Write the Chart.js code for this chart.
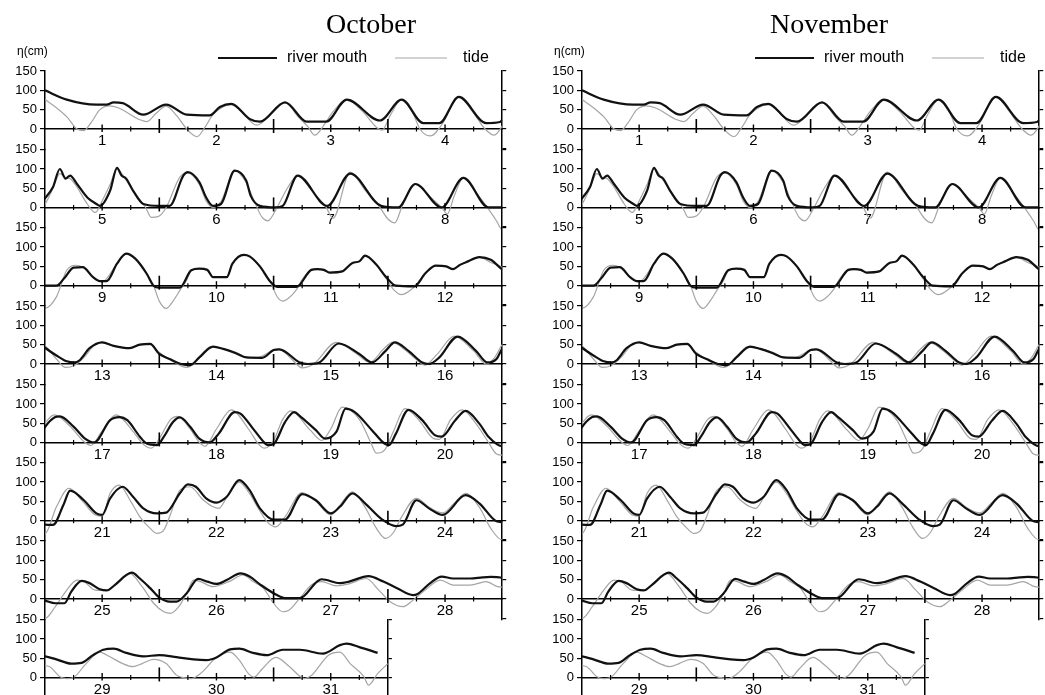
<!DOCTYPE html>
<html>
<head>
<meta charset="utf-8">
<title>River mouth and tide</title>
<script src="https://cdn.jsdelivr.net/npm/chart.js@4.4.1/dist/chart.umd.min.js"></script>
<style>
  html, body { margin: 0; padding: 0; background: #fff; }
  #wrap { position: relative; width: 1045px; height: 695px; overflow: hidden; }
  #wrap canvas { position: absolute; }
</style>
</head>
<body>
<div id="wrap"></div>
<script>
// time in days from 1st 00:00, water level in cm
const riverT = [
  0.00, 0.19, 0.45, 0.54, 0.60, 0.68, 0.86, 1.06, 1.24, 1.44, 1.53, 1.63, 1.79, 1.88, 2.10, 2.29, 2.46, 2.64, 2.93, 3.12, 3.31, 3.45, 3.62, 3.86, 3.98,
  4.00, 4.07, 4.13, 4.18, 4.22, 4.28, 4.37, 4.45, 4.48, 4.57, 4.63, 4.67, 4.71, 4.77, 4.86, 5.00, 5.09, 5.21, 5.25, 5.35, 5.41, 5.47, 5.54, 5.66, 5.76, 5.80, 5.88,
  6.02, 6.08, 6.21, 6.47, 6.67, 6.94, 7.09, 7.24, 7.47, 7.66, 7.88,
  8.10, 8.17, 8.25, 8.33, 8.42, 8.48, 8.54, 8.63, 8.71, 8.79, 8.89, 8.95, 9.00, 9.18, 9.28, 9.35, 9.42, 9.47, 9.59, 9.64, 9.74, 9.79, 9.88, 9.97,
  10.03, 10.20, 10.33, 10.38, 10.44, 10.49, 10.60, 10.69, 10.75, 10.80, 10.90, 10.98, 11.07, 11.23, 11.33, 11.42, 11.51, 11.57, 11.63, 11.70, 11.80, 11.90,
  12.00, 12.10, 12.19, 12.26, 12.30, 12.39, 12.50, 12.60, 12.74, 12.83, 12.92, 13.00, 13.09, 13.19, 13.27, 13.35, 13.47, 13.56, 13.67, 13.76, 13.90,
  14.00, 14.05, 14.23, 14.30, 14.40, 14.57, 14.75, 14.86, 14.98, 15.06, 15.18, 15.30, 15.36, 15.45, 15.61, 15.77, 15.87, 15.95,
  16.00, 16.09, 16.13, 16.25, 16.35, 16.43, 16.57, 16.65, 16.72, 16.83, 16.89, 16.98, 17.04, 17.12, 17.18, 17.27, 17.35, 17.44, 17.52, 17.66, 17.71, 17.83, 17.90, 17.95,
  18.00, 18.10, 18.18, 18.24, 18.37, 18.45, 18.55, 18.63, 18.71, 18.86, 18.97, 19.01, 19.07, 19.18, 19.30, 19.41, 19.47, 19.59, 19.68, 19.80, 19.88,
  20.00, 20.07, 20.16, 20.22, 20.34, 20.45, 20.50, 20.57, 20.68, 20.77, 20.86, 20.98, 21.06, 21.18, 21.25, 21.32, 21.41, 21.50, 21.59, 21.70, 21.79, 21.88,
  22.00, 22.10, 22.25, 22.37, 22.50, 22.58, 22.69, 22.80, 22.95, 23.07, 23.13, 23.25, 23.36, 23.48, 23.68, 23.80, 23.94,
  24.00, 24.09, 24.17, 24.23, 24.32, 24.39, 24.48, 24.54, 24.61, 24.76, 24.83, 24.92, 25.00, 25.09, 25.15, 25.24, 25.34, 25.42, 25.50, 25.59, 25.71, 25.79, 25.88,
  26.03, 26.11, 26.23, 26.38, 26.42, 26.58, 26.66, 26.83, 26.96, 27.08, 27.22, 27.26, 27.37, 27.47, 27.57, 27.72, 27.83, 27.90,
  28.00, 28.10, 28.23, 28.32, 28.42, 28.51, 28.60, 28.71, 28.86, 29.00, 29.15, 29.30, 29.41, 29.50, 29.62, 29.70, 29.82, 29.94,
  30.08, 30.23, 30.43, 30.58, 30.64, 30.75, 30.91
];
const riverH = [
  100, 76, 63, 63, 69, 67, 37, 63, 37, 35, 57, 65, 26, 19, 69, 19, 19, 76, 22, 76, 15, 15, 83, 15, 18,
  24, 53, 100, 75, 83, 61, 26, 9, 4, 44, 103, 83, 75, 44, 9, 4, 4, 83, 92, 66, 26, 4, 9, 96, 70, 30, 4,
  0, 4, 83, 4, 88, 4, 0, 61, 0, 77, 0,
  0, 20, 47, 48, 22, 12, 12, 57, 83, 70, 31, 0, -5, -5, 40, 44, 41, 22, 22, 57, 80, 76, 50, 11,
  -3, -3, 41, 43, 41, 34, 37, 59, 63, 78, 54, 24, 0, -2, 33, 52, 50, 43, 54, 63, 74, 67,
  42, 22, 7, 4, 9, 41, 56, 47, 41, 50, 52, 26, 13, 0, -3, 17, 45, 39, 28, 17, 16,
  36, 38, 4, 0, 4, 53, 26, 4, 34, 56, 34, 4, 0, 17, 71, 34, 4, 13,
  40, 66, 68, 41, 10, 0, 58, 66, 58, 15, -3, -7, 15, 53, 65, 41, 10, 0, 23, 79, 75, 32, 6, -7,
  -4, 53, 79, 66, 32, 10, 28, 88, 79, 32, -3, -7, 23, 85, 58, 19, 15, 58, 82, 49, 15,
  -10, -11, 40, 78, 53, 19, 15, 58, 88, 62, 32, 19, 21, 71, 94, 88, 58, 47, 62, 105, 79, 32,
  3, 3, 69, 53, 19, 36, 71, 45, 3, -14, -10, 53, 32, 15, 66, 45, 0,
  -4, -11, -11, 19, 47, 41, 25, 22, 36, 68, 53, 28, 4, -7, -7, 15, 52, 45, 39, 49, 66, 58, 38,
  10, 2, 2, 45, 51, 41, 45, 59, 45, 28, 10, 13, 41, 58, 53, 53, 56, 57,
  55, 47, 36, 38, 58, 72, 75, 64, 55, 58, 53, 47, 45, 52, 73, 75, 64, 58,
  72, 72, 62, 84, 88, 79, 64
];
const tideT = [
  0.00, 0.10, 0.19, 0.28, 0.34, 0.40, 0.48, 0.56, 0.64, 0.83, 0.89, 0.97, 1.06, 1.15, 1.24, 1.33, 1.40, 1.47, 1.63, 1.72, 1.85,
  2.00, 2.10, 2.22, 2.30, 2.36, 2.44, 2.52, 2.64, 2.78, 2.91, 2.95, 3.02, 3.12, 3.22, 3.28, 3.37, 3.48, 3.55, 3.62, 3.74, 3.85, 3.93,
  4.00, 4.07, 4.13, 4.18, 4.22, 4.28, 4.37, 4.44, 4.50, 4.57, 4.63, 4.70, 4.77, 4.88, 4.93, 5.00, 5.06, 5.18, 5.25, 5.35, 5.41, 5.47, 5.54, 5.66, 5.76, 5.84, 5.90, 5.95,
  6.03, 6.12, 6.21, 6.33, 6.46, 6.52, 6.67, 6.80, 6.93, 7.00, 7.06, 7.12, 7.18, 7.24, 7.36, 7.47, 7.52, 7.58, 7.66, 7.78, 7.87, 7.95,
  8.00, 8.10, 8.19, 8.27, 8.33, 8.42, 8.50, 8.63, 8.71, 8.79, 8.89, 8.95, 9.00, 9.06, 9.12, 9.18, 9.24, 9.28, 9.35, 9.42, 9.47, 9.59, 9.64, 9.74, 9.79, 9.88, 9.97,
  10.03, 10.08, 10.14, 10.20, 10.26, 10.33, 10.38, 10.44, 10.49, 10.60, 10.69, 10.75, 10.80, 10.90, 10.98, 11.05, 11.12, 11.22, 11.28, 11.33, 11.42, 11.51, 11.57, 11.63, 11.70, 11.80, 11.90,
  12.00, 12.10, 12.18, 12.26, 12.35, 12.42, 12.50, 12.60, 12.74, 12.83, 12.92, 13.00, 13.10, 13.24, 13.32, 13.45, 13.56, 13.67, 13.76, 13.85,
  14.00, 14.05, 14.15, 14.25, 14.35, 14.55, 14.72, 14.84, 14.96, 15.04, 15.16, 15.28, 15.32, 15.43, 15.58, 15.75, 15.86, 15.93,
  16.00, 16.08, 16.22, 16.33, 16.40, 16.50, 16.62, 16.78, 16.86, 16.93, 17.00, 17.10, 17.16, 17.27, 17.35, 17.40, 17.50, 17.63, 17.78, 17.87, 17.92,
  18.00, 18.08, 18.15, 18.32, 18.42, 18.50, 18.60, 18.75, 18.85, 18.90, 18.97, 19.05, 19.15, 19.28, 19.40, 19.45, 19.55, 19.65, 19.78, 19.88, 19.95,
  20.00, 20.10, 20.21, 20.33, 20.44, 20.50, 20.57, 20.65, 20.75, 20.83, 20.92, 20.98, 21.04, 21.09, 21.18, 21.27, 21.38, 21.47, 21.52, 21.60, 21.70, 21.79, 21.88, 21.95,
  22.02, 22.10, 22.25, 22.37, 22.50, 22.58, 22.69, 22.80, 22.90, 22.98, 23.05, 23.12, 23.25, 23.36, 23.48, 23.58, 23.68, 23.80, 23.90,
  24.00, 24.09, 24.19, 24.28, 24.34, 24.44, 24.54, 24.63, 24.74, 24.85, 24.95, 25.04, 25.10, 25.17, 25.24, 25.30, 25.36, 25.47, 25.61, 25.73, 25.82, 25.91,
  26.00, 26.08, 26.13, 26.23, 26.33, 26.42, 26.55, 26.66, 26.81, 26.92, 27.02, 27.13, 27.22, 27.31, 27.46, 27.57, 27.72, 27.86, 27.96,
  28.04, 28.13, 28.19, 28.25, 28.36, 28.48, 28.56, 28.68, 28.77, 28.85, 28.95, 29.06, 29.15, 29.20, 29.28, 29.36, 29.50, 29.62, 29.70, 29.78, 29.83, 29.90,
  30.02, 30.14, 30.27, 30.33, 30.48, 30.58, 30.67, 30.79, 30.83, 30.91, 31.00
];
const tideH = [
  76, 55, 32, 0, -4, 15, 50, 60, 55, 24, 19, 40, 59, 35, 0, -20, 5, 37, 63, 45, 10,
  45, 69, 30, 6, -16, 10, 45, 76, 45, 2, -3, 35, 76, 40, 0, -18, 15, 55, 83, 45, 0, -16,
  8, 50, 88, 78, 75, 53, 9, -13, 17, 60, 100, 75, 44, 0, -26, -22, 0, 79, 90, 60, 17, 0, 15, 96, 65, 10, -26, -35,
  0, 50, 83, 45, 0, -28, 92, 45, 0, -30, -40, 0, 40, 61, 30, 0, -17, 30, 77, 35, 0, -35,
  -58, -29, 40, 53, 48, 22, 10, 57, 83, 70, 31, 0, -40, -59, -40, -12, 14, 40, 44, 41, 22, 22, 57, 80, 76, 50, 11,
  -28, -40, -30, -10, 20, 41, 43, 41, 34, 37, 59, 63, 78, 54, 20, -10, -23, -6, 15, 33, 52, 50, 43, 54, 63, 74, 60,
  47, 13, -9, -3, 20, 45, 56, 47, 41, 50, 50, 30, 10, -9, 5, 45, 40, 30, 18, 16,
  36, 38, 15, -10, 0, 56, 28, 4, 38, 56, 34, 4, -3, 25, 72, 34, 0, 15,
  50, 72, 42, 5, -8, 30, 72, 25, -5, -15, 10, 60, 68, 35, 0, -10, 35, 85, 35, -5, -15,
  5, 60, 82, 32, 5, 35, 92, 60, 0, -28, -20, 30, 88, 55, 10, 8, 60, 85, 45, 0, -30,
  -33, 36, 84, 50, 15, 12, 71, 92, 50, 10, -20, -33, -24, 10, 79, 88, 55, 36, 32, 65, 100, 70, 25, -5,
  -16, 10, 73, 50, 15, 40, 75, 35, -20, -46, -30, 10, 58, 35, 20, 45, 71, 35, -20,
  -50, -20, 23, 49, 45, 23, 22, 41, 66, 32, -11, -33, -37, -20, 15, 49, 45, 32, 45, 62, 45, 28,
  -11, -33, -30, 2, 36, 45, 34, 39, 53, 23, -7, -20, -3, 19, 49, 36, 36, 45, 32,
  28, 2, -3, 0, 36, 66, 55, 36, 28, 36, 47, 36, 6, 0, -3, 10, 52, 66, 45, 10, 1, 22,
  52, 28, -3, 5, 58, 66, 36, 2, -20, 10, 36
];

const months = ['October', 'November'];
const seriesNames = ['river mouth', 'tide'];
const dayTicks = [0, 50, 100, 150];
const sideTicks = [-50, 0, 50, 100, 150];

// layout (pixels)
const AXIS_X = 45, DAY_W = 114.3, ZERO_Y = 129, ROW_H = 78.33, UNIT = 58 / 150;
const Y_MIN = 150 - ROW_H / UNIT;
const panelLeft = [0, 537];
const titleX = [371, 292];

const riverPts = riverT.map((t, i) => ({x: t, y: riverH[i]}));
const tidePts = tideT.map((t, i) => ({x: t, y: tideH[i]}));

const tickMarks = {
    id: 'tickMarks',
    afterDraw(chart) {
        const xs = chart.scales.x, ys = chart.scales.y, ctx = chart.ctx;
        const y0 = ys.getPixelForValue(0);
        ctx.save();
        ctx.strokeStyle = '#000';
        for (let v = xs.min + 0.25; v < xs.max - 0.01; v += 0.25) {
            const f = v - Math.floor(v);
            let up = 2.5, down = 2.5, lw = 1.2;
            if (f === 0) { up = 10; down = 4; lw = 1.6; }
            else if (f === 0.5) { up = 4.5; down = 3; lw = 1.4; }
            const px = xs.getPixelForValue(v);
            ctx.lineWidth = lw;
            ctx.beginPath();
            ctx.moveTo(px, y0 - up);
            ctx.lineTo(px, y0 + down);
            ctx.stroke();
        }
        ctx.restore();
    }
};

const header = {
    id: 'header',
    afterDraw(chart, args, opts) {
        if (!opts.title) return;
        const ctx = chart.ctx;
        const ds = chart.data.datasets;
        ctx.save();
        ctx.fillStyle = '#000';
        ctx.font = '28px "Liberation Serif", serif';
        ctx.textAlign = 'center';
        ctx.textBaseline = 'alphabetic';
        ctx.fillText(opts.title, opts.titleX, 33);

        ctx.font = '12px "Liberation Sans Narrow", "Liberation Sans", Arial, sans-serif';
        ctx.textAlign = 'left';
        ctx.textBaseline = 'middle';
        ctx.fillText('η(cm)', 17, 52);

        const items = [{x0: 218, x1: 277, tx: 287}, {x0: 395, x1: 447, tx: 463}];
        ctx.font = '16px "Liberation Sans", Arial, sans-serif';
        items.forEach((it, i) => {
            ctx.strokeStyle = ds[i].borderColor;
            ctx.lineWidth = ds[i].borderWidth;
            ctx.beginPath();
            ctx.moveTo(it.x0, 58);
            ctx.lineTo(it.x1, 58);
            ctx.stroke();
            ctx.fillText(ds[i].label, it.tx, 58);
        });
        ctx.restore();
    }
};

function makeRow(p, k) {
    const tMin = 4 * k, tMax = Math.min(4 * k + 4, 31);
    const areaW = (tMax - tMin) * DAY_W;
    const areaTop = ZERO_Y + k * ROW_H - 150 * UNIT;
    const top = k === 0 ? 0 : Math.floor(areaTop - 10);
    const padT = areaTop - top;
    const W = Math.ceil(AXIS_X + areaW + 10);
    const H = Math.ceil(padT + ROW_H + 12);

    const cv = document.createElement('canvas');
    cv.width = W;
    cv.height = H;
    cv.style.left = panelLeft[p] + 'px';
    cv.style.top = top + 'px';
    cv.style.width = W + 'px';
    cv.style.height = H + 'px';
    document.getElementById('wrap').appendChild(cv);

    const font = {family: '"Liberation Sans Narrow", "Liberation Sans", Arial, sans-serif'};

    new Chart(cv, {
        type: 'line',
        data: {
            datasets: [
                {
                    label: seriesNames[0],
                    data: riverPts,
                    borderColor: '#111',
                    borderWidth: 2.2,
                    pointRadius: 0,
                    cubicInterpolationMode: 'monotone',
                    clip: {left: 0, top: 0, right: 0, bottom: 10},
                    xAxisID: 'x',
                    yAxisID: 'y'
                },
                {
                    label: seriesNames[1],
                    data: tidePts,
                    borderColor: '#a5a5a5',
                    borderWidth: 1.2,
                    pointRadius: 0,
                    cubicInterpolationMode: 'monotone',
                    clip: {left: 0, top: 0, right: 0, bottom: 10},
                    xAxisID: 'x',
                    yAxisID: 'y'
                }
            ]
        },
        options: {
            responsive: false,
            animation: false,
            events: [],
            layout: {padding: {top: padT, bottom: H - padT - ROW_H, left: 0, right: W - AXIS_X - areaW - 6}},
            plugins: {
                legend: {display: false},
                tooltip: {enabled: false},
                header: k === 0 ? {title: months[p], titleX: titleX[p]} : {}
            },
            scales: {
                x: {
                    type: 'linear',
                    min: tMin,
                    max: tMax,
                    position: {y: 0},
                    afterBuildTicks: s => {
                        const t = [];
                        for (let d = tMin; d < tMax; d++) t.push({value: d + 0.5});
                        s.ticks = t;
                    },
                    grid: {display: false, drawTicks: false},
                    border: {color: '#000', width: 1.5},
                    ticks: {
                        autoSkip: false,
                        maxRotation: 0,
                        padding: 3,
                        color: '#000',
                        font: {...font, size: 15},
                        callback: v => String(Math.floor(v) + 1)
                    }
                },
                y: {
                    position: 'left',
                    min: Y_MIN,
                    max: 150,
                    afterBuildTicks: s => { s.ticks = dayTicks.map(v => ({value: v})); },
                    afterFit: s => { s.width = AXIS_X; },
                    grid: {drawOnChartArea: false, tickLength: 5, color: '#000', lineWidth: 1.2},
                    border: {color: '#000', width: 1.5},
                    ticks: {padding: 3, color: '#000', font: {...font, size: 13}}
                },
                y2: {
                    position: 'right',
                    min: Y_MIN,
                    max: 150,
                    afterBuildTicks: s => { s.ticks = sideTicks.map(v => ({value: v})); },
                    afterFit: s => { s.width = 6; },
                    grid: {drawOnChartArea: false, tickLength: 4, color: '#000', lineWidth: 1.2},
                    border: {color: '#000', width: 1.5},
                    ticks: {display: false}
                }
            }
        },
        plugins: [tickMarks, header]
    });
}

for (let p = 0; p < 2; p++) {
    for (let k = 0; k < 8; k++) makeRow(p, k);
}
</script>
</body>
</html>
